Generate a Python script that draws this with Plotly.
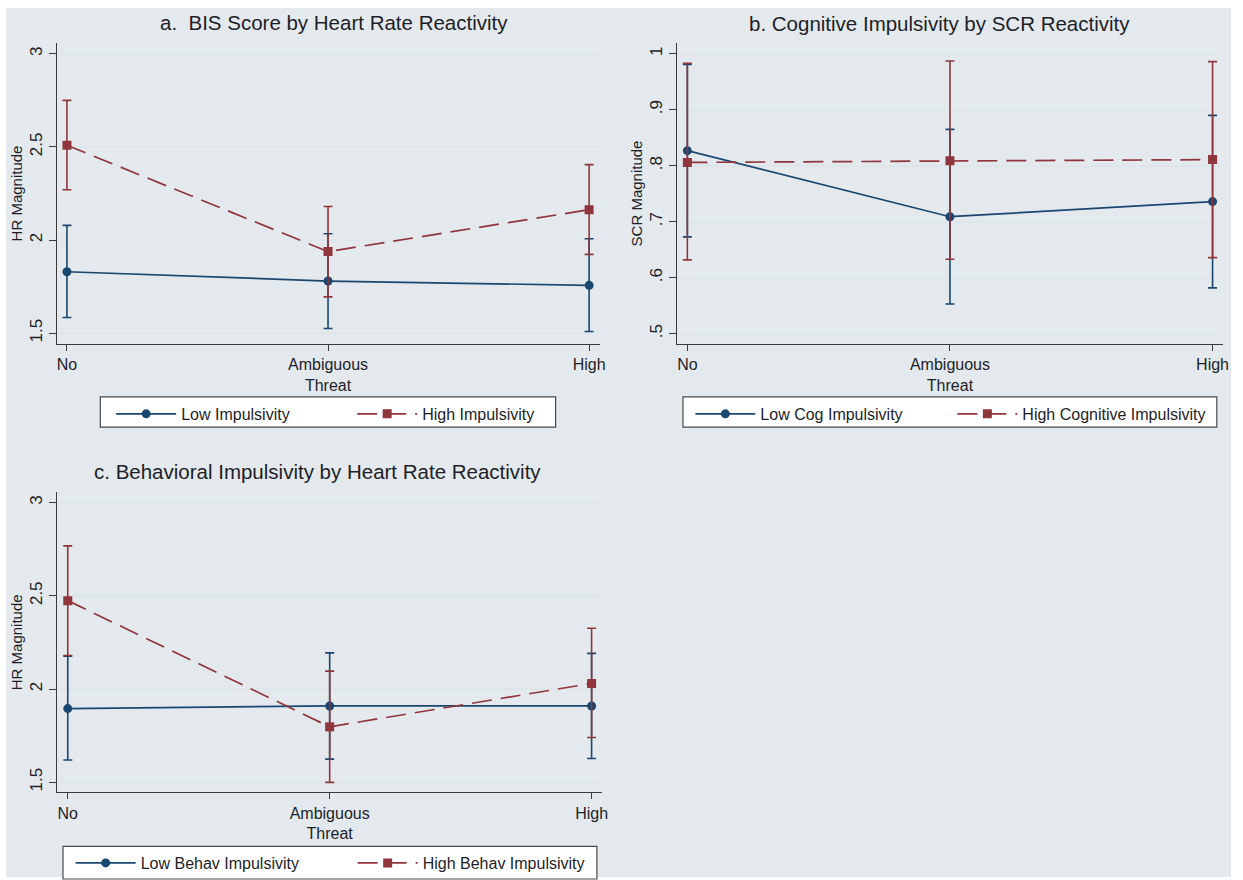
import plotly.graph_objects as go

W, H = 1243, 880

# ---------------- data ----------------
categories = ["No", "Ambiguous<br>Threat", "High"]
x_pos = [0, 1, 2]

# Panel a: BIS score by heart rate reactivity
a_low = [1.830, 1.780, 1.757]
a_low_lo = [1.584, 1.525, 1.509]
a_low_hi = [2.079, 2.034, 2.007]
a_high = [2.509, 1.938, 2.163]
a_high_lo = [2.270, 1.695, 1.923]
a_high_hi = [2.750, 2.180, 2.405]

# Panel b: cognitive impulsivity by SCR reactivity
b_low = [0.827, 0.709, 0.736]
b_low_lo = [0.673, 0.553, 0.582]
b_low_hi = [0.981, 0.865, 0.890]
b_high = [0.806, 0.809, 0.811]
b_high_lo = [0.632, 0.633, 0.636]
b_high_hi = [0.983, 0.987, 0.986]

# Panel c: behavioral impulsivity by heart rate reactivity
c_low = [1.895, 1.909, 1.909]
c_low_lo = [1.619, 1.624, 1.627]
c_low_hi = [2.176, 2.194, 2.191]
c_high = [2.474, 1.797, 2.030]
c_high_lo = [2.180, 1.499, 1.740]
c_high_hi = [2.768, 2.096, 2.326]

hr_ticks = [1.5, 2, 2.5, 3]
hr_ticktext = ["1.5", "2", "2.5", "3"]
scr_ticks = [0.5, 0.6, 0.7, 0.8, 0.9, 1.0]
scr_ticktext = [".5", ".6", ".7", ".8", ".9", "1"]

titles = ["a.  BIS Score by Heart Rate Reactivity",
          "b. Cognitive Impulsivity by SCR Reactivity",
          "c. Behavioral Impulsivity by Heart Rate Reactivity"]
legend_names = [("Low Impulsivity", "High Impulsivity"),
                ("Low Cog Impulsivity", "High Cognitive Impulsivity"),
                ("Low Behav Impulsivity", "High Behav Impulsivity")]
ytitles = ["HR Magnitude", "SCR Magnitude", "HR Magnitude"]

# ---------------- style ----------------
NAVY = "#1a476f"
MAROON = "#90353b"
BG = "#e3e9ed"
GRID = "#dfe6ea"
AXIS = "#3a3a3a"
FONT = "Liberation Sans, Arial, sans-serif"
TXT = "#1e1e28"


def px_x(v):
    return v / W


def px_y(v):
    return 1 - v / H


fig = go.Figure()

panels = [
    dict(low=(a_low, a_low_lo, a_low_hi), high=(a_high, a_high_lo, a_high_hi),
         xd=(57.3, 603), yd=(43.3, 345), yr=(1.443, 3.057), xr=(-0.038, 2.042),
         ticks=(hr_ticks, hr_ticktext), title_xy=(336, 23),
         leg=(111.7, 398.3), itemwidth=60, entry=166, box=(100.8, 398.3, 558.3, 428.5)),
    dict(low=(b_low, b_low_lo, b_low_hi), high=(b_high, b_high_lo, b_high_hi),
         xd=(680.4, 1229), yd=(43.3, 345), yr=(0.482, 1.019), xr=(-0.039, 2.04),
         ticks=(scr_ticks, scr_ticktext), title_xy=(944, 24),
         leg=(693.7, 398.3), itemwidth=60, entry=187, box=(686.3, 398.3, 1222.7, 428.5)),
    dict(low=(c_low, c_low_lo, c_low_hi), high=(c_high, c_high_lo, c_high_hi),
         xd=(57.3, 605), yd=(494, 795), yr=(1.446, 3.055), xr=(-0.041, 2.04),
         ticks=(hr_ticks, hr_ticktext), title_xy=(319, 473),
         leg=(71, 849.3), itemwidth=60, entry=207, box=(63.3, 849.3, 599.8, 882)),
]

shapes = [dict(type="rect", xref="paper", yref="paper",
               x0=px_x(6), x1=px_x(1237), y0=0, y1=px_y(8),
               fillcolor=BG, line=dict(width=0), layer="below")]
annotations = []
layout_axes = {}

for i, p in enumerate(panels):
    n = i + 1
    xa = "x" if n == 1 else f"x{n}"
    ya = "y" if n == 1 else f"y{n}"
    leg = "legend" if n == 1 else f"legend{n}"
    low, low_lo, low_hi = p["low"]
    high, high_lo, high_hi = p["high"]
    name_low, name_high = legend_names[i]

    fig.add_trace(go.Scatter(
        x=x_pos, y=low, mode="lines+markers", name=name_low,
        xaxis=xa, yaxis=ya, legend=leg,
        line=dict(color=NAVY, width=1.7),
        marker=dict(symbol="circle", size=9, color=NAVY),
        error_y=dict(type="data", symmetric=False,
                     array=[h - v for h, v in zip(low_hi, low)],
                     arrayminus=[v - l for v, l in zip(low, low_lo)],
                     color=NAVY, thickness=1.6, width=4.5),
    ))
    fig.add_trace(go.Scatter(
        x=x_pos, y=high, mode="lines+markers", name=name_high,
        xaxis=xa, yaxis=ya, legend=leg,
        line=dict(color=MAROON, width=1.7, dash="20px,9px"),
        marker=dict(symbol="square", size=9, color=MAROON),
        error_y=dict(type="data", symmetric=False,
                     array=[h - v for h, v in zip(high_hi, high)],
                     arrayminus=[v - l for v, l in zip(high, high_lo)],
                     color=MAROON, thickness=1.6, width=4.5),
    ))

    xkey = "xaxis" if n == 1 else f"xaxis{n}"
    ykey = "yaxis" if n == 1 else f"yaxis{n}"
    layout_axes[xkey] = dict(
        domain=[px_x(p["xd"][0]), px_x(p["xd"][1])], anchor=ya,
        range=list(p["xr"]), tickvals=x_pos, ticktext=categories,
        showgrid=False, zeroline=False, showline=True, linecolor=AXIS, linewidth=1.2,
        ticks="outside", ticklen=6, tickcolor=AXIS, tickwidth=1.2,
        tickfont=dict(family=FONT, size=16, color=TXT),
    )
    layout_axes[ykey] = dict(
        domain=[px_y(p["yd"][1]), px_y(p["yd"][0])], anchor=xa,
        range=list(p["yr"]), tickvals=p["ticks"][0], ticktext=p["ticks"][1],
        tickangle=-90,
        showgrid=True, gridcolor=GRID, gridwidth=1.5, zeroline=False,
        showline=True, linecolor=AXIS, linewidth=1.2,
        ticks="outside", ticklen=7, tickcolor=AXIS, tickwidth=1.2,
        tickfont=dict(family=FONT, size=17, color=TXT),
        title=dict(text=ytitles[i], font=dict(family=FONT, size=15, color=TXT), standoff=0),
    )

    legkey = "legend" if n == 1 else f"legend{n}"
    layout_axes[legkey] = dict(
        orientation="h", x=px_x(p["leg"][0]), y=px_y(p["leg"][1]),
        xanchor="left", yanchor="top", bgcolor="rgba(0,0,0,0)", borderwidth=0,
        itemwidth=p["itemwidth"], entrywidth=p["entry"], entrywidthmode="pixels",
        font=dict(family=FONT, size=16, color=TXT), itemclick=False,
    )

    bx0, by0, bx1, by1 = p["box"]
    shapes.append(dict(type="rect", xref="paper", yref="paper",
                       x0=px_x(bx0), x1=px_x(bx1), y0=px_y(by1), y1=px_y(by0),
                       fillcolor="white", line=dict(color="#4a4a4a", width=1.2),
                       layer="above"))

    tx, ty = p["title_xy"]
    annotations.append(dict(text=titles[i], xref="paper", yref="paper",
                            x=px_x(tx), y=px_y(ty), xanchor="center", yanchor="middle",
                            showarrow=False, font=dict(family=FONT, size=20.5, color=TXT)))

fig.update_layout(
    width=W, height=H, margin=dict(l=0, r=0, t=0, b=0),
    paper_bgcolor="white", plot_bgcolor="white",
    shapes=shapes, annotations=annotations,
    **layout_axes,
)

fig.write_html("out.html", config={"displayModeBar": False},
               post_script="document.body.style.margin='0';document.body.style.overflow='hidden';")
